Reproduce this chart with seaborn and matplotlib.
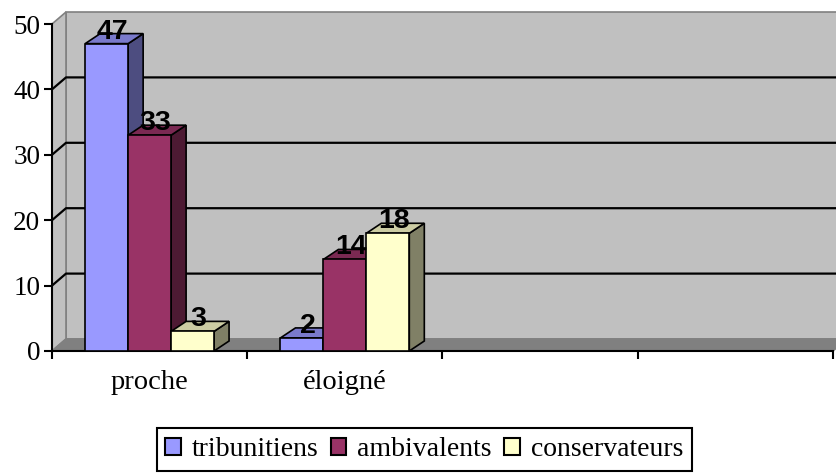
import numpy as np
import pandas as pd
import matplotlib
matplotlib.use("Agg")
import matplotlib.pyplot as plt
import seaborn as sns
from matplotlib.patches import Polygon, Patch
import matplotlib.colors as mcolors

# ---- data ----
categories = ["proche", "éloigné"]
n_slots = 4  # Excel category slots (two are empty)
series = ["tribunitiens", "ambivalents", "conservateurs"]
tribunitiens = [47, 2]
ambivalents = [33, 14]
conservateurs = [3, 18]
colors = ["#9999FF", "#993366", "#FFFFCC"]
yticks = [0, 10, 20, 30, 40, 50]

df = pd.DataFrame({
    "categorie": categories * 3,
    "serie": np.repeat(series, len(categories)),
    "valeur": tribunitiens + ambivalents + conservateurs,
})

sns.set_theme(style="white")
plt.rcParams["font.family"] = ["Liberation Serif", "DejaVu Serif"]

W, H = 837, 475
fig = plt.figure(figsize=(W / 100, H / 100), dpi=100)
ax = fig.add_axes([52 / W, (H - 351) / H, 781 / W, 327 / H])
ax.set_facecolor("none")

sns.barplot(data=df, x="categorie", y="valeur", hue="serie", order=categories,
            hue_order=series, palette=colors, saturation=1, width=0.66,
            edgecolor="black", linewidth=1.2, legend=False, ax=ax)

ax.set_xlim(-0.5, n_slots - 0.5)
ax.set_ylim(yticks[0], yticks[-1])
ax.set_xlabel("")
ax.set_ylabel("")

fig.canvas.draw()
bb = ax.get_window_extent()
ppx = bb.width / n_slots
ppy = bb.height / (yticks[-1] - yticks[0])

# wall depth (pixels) and bar depth
dxw, dyw = 14 / ppx, 12 / ppy
dxb, dyb = 15 / ppx, 10 / ppy

x0a, x1a = -0.5, n_slots - 0.5
ytop = yticks[-1]
wall_grey = "#C0C0C0"
edge_grey = "#808080"

# back wall
ax.add_patch(Polygon([(x0a + dxw, dyw), (x1a + dxw, dyw), (x1a + dxw, ytop + dyw), (x0a + dxw, ytop + dyw)],
                     closed=True, facecolor=wall_grey, edgecolor=edge_grey, lw=1.2, zorder=0.5, clip_on=False))
# left wall
ax.add_patch(Polygon([(x0a, 0), (x0a + dxw, dyw), (x0a + dxw, ytop + dyw), (x0a, ytop)],
                     closed=True, facecolor=wall_grey, edgecolor=edge_grey, lw=1.2, zorder=0.5, clip_on=False))
# floor
ax.add_patch(Polygon([(x0a, 0), (x1a, 0), (x1a + dxw, dyw), (x0a + dxw, dyw)],
                     closed=True, facecolor=edge_grey, edgecolor=edge_grey, lw=1.2, zorder=0.55, clip_on=False))
# gridlines on back wall + left wall
for v in yticks[1:-1]:
    ax.plot([x0a, x0a + dxw, x1a + dxw], [v, v + dyw, v + dyw], color="black", lw=1.6,
            zorder=0.6, clip_on=False, solid_capstyle="butt")

# 3D bars
def shade(c, f):
    r, g, b = mcolors.to_rgb(c)
    return (r * f, g * f, b * f)

bars = sorted([p for p in ax.patches if hasattr(p, "get_width") and p.get_zorder() > 0.9 and p.get_height() > 0],
              key=lambda p: p.get_x())
for k, p in enumerate(bars):
    x0 = p.get_x()
    x1 = x0 + p.get_width()
    h = p.get_height()
    fc = p.get_facecolor()
    z = 3 + k * 0.1
    p.set_zorder(z)
    side = Polygon([(x1, 0), (x1 + dxb, dyb), (x1 + dxb, h + dyb), (x1, h)], closed=True,
                   facecolor=shade(fc, 0.5), edgecolor="black", lw=1.2, zorder=z - 0.01, clip_on=False)
    top = Polygon([(x0, h), (x1, h), (x1 + dxb, h + dyb), (x0 + dxb, h + dyb)], closed=True,
                  facecolor=shade(fc, 0.8), edgecolor="black", lw=1.2, zorder=z - 0.01, clip_on=False)
    ax.add_patch(side)
    ax.add_patch(top)
    ax.annotate(f"{h:g}", xy=((x0 + x1) / 2, h), xytext=(6, -1), textcoords="offset pixels",
                ha="center", va="bottom", fontsize=20.5, fontweight="bold",
                family=["Liberation Sans", "DejaVu Sans"], color="black", zorder=10)

# spines and ticks
for s in ["top", "right"]:
    ax.spines[s].set_visible(False)
for s in ["left", "bottom"]:
    ax.spines[s].set_color("black")
    ax.spines[s].set_linewidth(1.5)
    ax.spines[s].set_zorder(2.5)

ax.set_yticks(yticks)
ax.set_yticklabels([str(v) for v in yticks], fontsize=19.5, color="black")
ax.tick_params(axis="y", left=True, length=6, width=1.5, color="black", direction="out", pad=2.5)

ax.set_xticks(np.arange(-0.5, n_slots, 1.0))
ax.set_xticklabels([])
ax.set_xticks(range(len(categories)), labels=categories, minor=True)
ax.tick_params(axis="x", which="major", bottom=True, length=6, width=1.5, color="black", direction="out")
ax.tick_params(axis="x", which="minor", bottom=True, length=0, pad=14, labelsize=20.5, labelcolor="black")

handles = [Patch(facecolor=c, edgecolor="black", linewidth=1.5, label=s) for c, s in zip(colors, series)]
leg = fig.legend(handles=handles, loc="lower center", bbox_to_anchor=(0.507, 0.008), ncol=3,
                 frameon=True, fancybox=False, edgecolor="black", framealpha=1,
                 prop={"family": "Liberation Serif", "size": 20}, handlelength=0.55, handleheight=0.55,
                 handletextpad=0.4, columnspacing=0.45, borderpad=0.32, borderaxespad=0)
for t in leg.get_texts():
    t.set_color("black")
leg.get_frame().set_linewidth(1.5)

fig.savefig("out.png", dpi=100)
